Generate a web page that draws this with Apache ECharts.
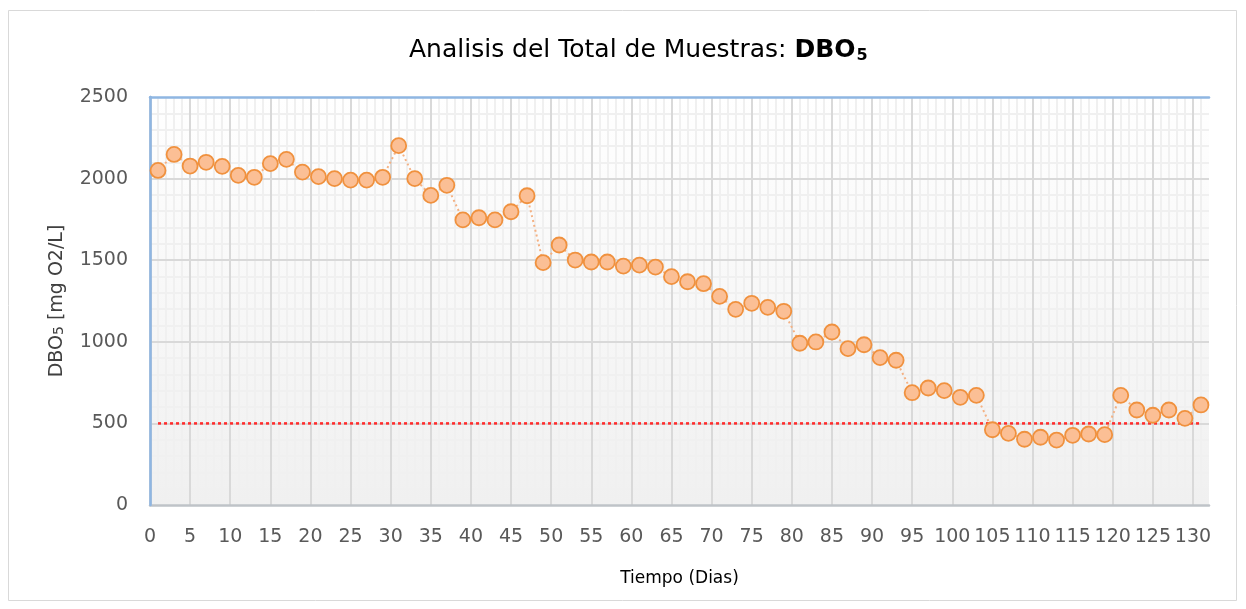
<!DOCTYPE html>
<html>
<head>
<meta charset="utf-8">
<script src="https://cdn.jsdelivr.net/npm/echarts@6/dist/echarts.min.js"></script>
<style>
html,body{margin:0;padding:0;background:#fff;}
#chart{width:1246px;height:609px;}
</style>
</head>
<body>
<div id="chart"></div>
<script>
// Data
const days = [1,3,5,7,9,11,13,15,17,19,21,23,25,27,29,31,33,35,37,39,41,43,45,47,49,51,53,55,57,59,61,63,65,67,69,71,73,75,77,79,81,83,85,87,89,91,93,95,97,99,101,103,105,107,109,111,113,115,117,119,121,123,125,127,129,131];
const dbo5 = [2050,2148,2077,2100,2075,2020,2008,2092,2118,2040,2012,2000,1991,1991,2008,2202,2000,1897,1959,1747,1760,1747,1797,1895,1485,1593,1501,1489,1489,1464,1470,1458,1399,1368,1356,1278,1199,1236,1211,1187,991,999,1060,958,982,903,887,688,717,701,660,672,461,439,403,415,398,427,435,431,672,582,550,582,531,613];
const limitDays = [1,131];
const limitValue = [500,500];
const xTicks = [0,5,10,15,20,25,30,35,40,45,50,55,60,65,70,75,80,85,90,95,100,105,110,115,120,125,130];
const yTicks = [0,500,1000,1500,2000,2500];

const FONT = "'DejaVu Sans'";
const chart = echarts.init(document.getElementById('chart'));
const mainData = days.map((d,i)=>[d,dbo5[i]]);
const limitData = limitDays.map((d,i)=>[d,limitValue[i]]);

chart.setOption({
  animation:false,
  backgroundColor:'#fff',
  textStyle:{fontFamily:FONT},
  graphic:[{type:'rect',shape:{x:8.5,y:10.5,width:1228,height:590},style:{fill:'none',stroke:'#d9d9d9',lineWidth:1},silent:true,z:-10}],
  title:{
    left:404, top:31,
    text:'{a|Analisis del Total de Muestras: }{b|DBO}{c|5}',
    textStyle:{
      rich:{
        a:{fontFamily:FONT,fontSize:25,color:'#000',fontWeight:'normal'},
        b:{fontFamily:FONT,fontSize:25,color:'#000',fontWeight:'bold'},
        c:{fontFamily:FONT,fontSize:16,color:'#000',fontWeight:'bold',verticalAlign:'bottom',padding:[12,0,0,1]}
      }
    }
  },
  grid:{
    left:150, right:37, top:97, bottom:104, show:true, borderWidth:0,
    backgroundColor:new echarts.graphic.LinearGradient(0,0,0,1,[{offset:0,color:'#ffffff'},{offset:1,color:'#f0f0f0'}])
  },
  xAxis:[
    {
      type:'value', min:0, max:132, interval:5, position:'bottom', z:1,
      name:'Tiempo (Dias)', nameLocation:'middle', nameGap:65,
      nameTextStyle:{fontFamily:FONT,fontSize:17,color:'#000'},
      axisLine:{show:true,onZero:false,lineStyle:{color:'#bfc3c8',width:2.5}},
      axisTick:{show:false},
      axisLabel:{fontFamily:FONT,fontSize:19,color:'#595959',margin:23,
        formatter:v=>xTicks.indexOf(v)>=0?String(v):''},
      splitLine:{show:true,showMinLine:false,showMaxLine:false,lineStyle:{color:'#d9d9d9',width:2}}
    },
    {
      type:'value', min:0, max:132, interval:1, position:'top', z:0,
      axisLine:{show:false},
      axisTick:{show:false}, axisLabel:{show:false},
      splitLine:{show:true,showMinLine:false,showMaxLine:false,lineStyle:{color:'#f0f0f0',width:2}}
    },
    {
      type:'value', min:0, max:132, position:'top', z:2,
      axisLine:{show:true,onZero:false,lineStyle:{color:'#8fb6e2',width:2.5}},
      axisTick:{show:false}, axisLabel:{show:false}, splitLine:{show:false}
    }
  ],
  yAxis:[
    {
      type:'value', min:0, max:2500, interval:500, z:1,
      name:'{a|DBO}{s|5}{a| [mg O2/L]}', nameLocation:'middle', nameGap:83,
      nameTextStyle:{rich:{a:{fontFamily:FONT,fontSize:19,color:'#404040'},s:{fontFamily:FONT,fontSize:14,color:'#404040',padding:[3,0,0,0]}}},
      axisLine:{show:true,lineStyle:{color:'#bfc3c8',width:2.5}},
      axisTick:{show:false},
      axisLabel:{fontFamily:FONT,fontSize:19,color:'#595959',margin:22,
        formatter:v=>yTicks.indexOf(v)>=0?String(v):''},
      splitLine:{show:true,showMinLine:false,showMaxLine:false,lineStyle:{color:'#d9d9d9',width:2}},
      minorTick:{show:false,splitNumber:5},
      minorSplitLine:{show:true,lineStyle:{color:'#f0f0f0',width:2}}
    },
    {
      type:'value', min:0, max:2500, interval:500, position:'right', z:2,
      axisLine:{show:true,lineStyle:{color:'#8fb6e2',width:2.5}},
      axisTick:{show:false}, axisLabel:{show:false}, splitLine:{show:false}
    }
  ],
  series:[
    {
      type:'line', name:'Limite', xAxisIndex:0, yAxisIndex:0, data:limitData,
      symbol:'none', z:2,
      lineStyle:{color:'#ff2b2b',width:2.5,type:[3,3]}
    },
    {
      type:'line', name:'DBO5', xAxisIndex:0, yAxisIndex:0, data:mainData,
      symbol:'circle', symbolSize:15, z:3,
      lineStyle:{color:'#f4b183',width:2,type:[2,3]},
      itemStyle:{color:'#fbbf95',borderColor:'#f0913e',borderWidth:1.8}
    }
  ]
});
</script>
</body>
</html>
